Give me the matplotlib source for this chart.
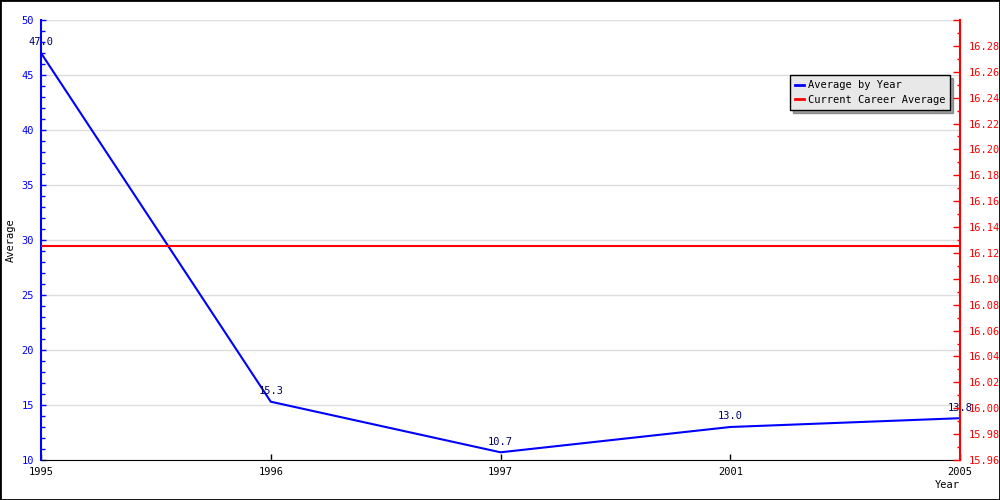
import matplotlib
matplotlib.use("Agg")
import matplotlib.pyplot as plt
from matplotlib.ticker import MultipleLocator, FixedLocator, FuncFormatter
from matplotlib.patches import Rectangle
from matplotlib.lines import Line2D

years = ["1995", "1996", "1997", "2001", "2005"]
avg_by_year = [47.0, 15.3, 10.7, 13.0, 13.8]
career_avg = 16.125

mono = "DejaVu Sans Mono"
fig = plt.figure(figsize=(10, 5), dpi=100)
fig.patch.set_facecolor("white")
ax = fig.add_axes([0.041, 0.08, 0.919, 0.88])
x = list(range(len(years)))

ax.set_xlim(0, len(years) - 1)
ax.set_ylim(10, 50)
ax.yaxis.set_major_locator(MultipleLocator(5))
ax.yaxis.set_minor_locator(MultipleLocator(1))
ax.grid(axis="y", which="major", color="#dddddd", linewidth=1)
ax.set_axisbelow(True)

ax.plot(x, avg_by_year, color="#0000ff", linewidth=1.5, zorder=3)
for xi, v in zip(x, avg_by_year):
    ax.annotate(f"{v:.1f}", (xi, v), xytext=(0, 4), textcoords="offset points",
                ha="center", va="bottom", fontsize=7.5, family=mono, color="#000066", zorder=5)

ax.set_xticks(x)
ax.set_xticklabels(years, family=mono, fontsize=7.5)
ax.tick_params(axis="x", direction="in", length=4, width=1, colors="black", pad=5)
ax.tick_params(axis="y", which="major", direction="in", length=3.8, width=1, colors="#0000ff", labelsize=7.5, pad=5)
ax.tick_params(axis="y", which="minor", direction="in", length=3, width=1, colors="#0000ff")
for lab in ax.get_yticklabels():
    lab.set_family(mono)
ax.spines["left"].set_color("#0000ff")
ax.spines["left"].set_linewidth(1.5)
ax.spines["bottom"].set_color("black")
ax.spines["top"].set_visible(False)
ax.spines["right"].set_visible(False)

ax2 = ax.twinx()
ax2.set_ylim(15.96, 16.30)
ax2.axhline(career_avg, color="#ff0000", linewidth=1.5, zorder=2)
ax2.yaxis.set_major_locator(FixedLocator([15.96 + 0.02 * i for i in range(18)]))
ax2.yaxis.set_minor_locator(MultipleLocator(0.01))
ax2.yaxis.set_major_formatter(FuncFormatter(lambda v, p: "" if v > 16.29 else f"{v:.2f}"))
ax2.tick_params(axis="y", which="major", direction="in", length=5, width=1, colors="#ff0000", labelsize=7.5, pad=6)
ax2.tick_params(axis="y", which="minor", direction="in", length=2.5, width=1, colors="#ff0000")
for lab in ax2.get_yticklabels():
    lab.set_family(mono)
ax2.spines["right"].set_color("#ff0000")
ax2.spines["right"].set_linewidth(1.5)
for s in ["top", "left", "bottom"]:
    ax2.spines[s].set_visible(False)

fig.text(0.011, 0.52, "Average", rotation=90, ha="center", va="center", fontsize=7.5, family=mono)
fig.text(0.947, 0.03, "Year", ha="center", va="center", fontsize=7.5, family=mono)

handles = [Line2D([], [], color="#0000ff", lw=2), Line2D([], [], color="#ff0000", lw=2)]
leg = ax2.legend(handles, ["Average by Year", "Current Career Average"], loc="upper left",
                 bbox_to_anchor=(0.79, 0.85), bbox_transform=fig.transFigure,
                 prop={"family": mono, "size": 7.5}, frameon=True, fancybox=False,
                 shadow=True, handlelength=0.8, handletextpad=0.4, borderpad=0.5,
                 labelspacing=0.45, borderaxespad=0)
leg.get_frame().set_facecolor("#e8e8e8")
leg.get_frame().set_edgecolor("black")
leg.get_frame().set_alpha(1)

fig.add_artist(Rectangle((0, 0), 1, 1, transform=fig.transFigure, fill=False,
                         edgecolor="black", linewidth=2))
fig.savefig("out.png", dpi=100)
